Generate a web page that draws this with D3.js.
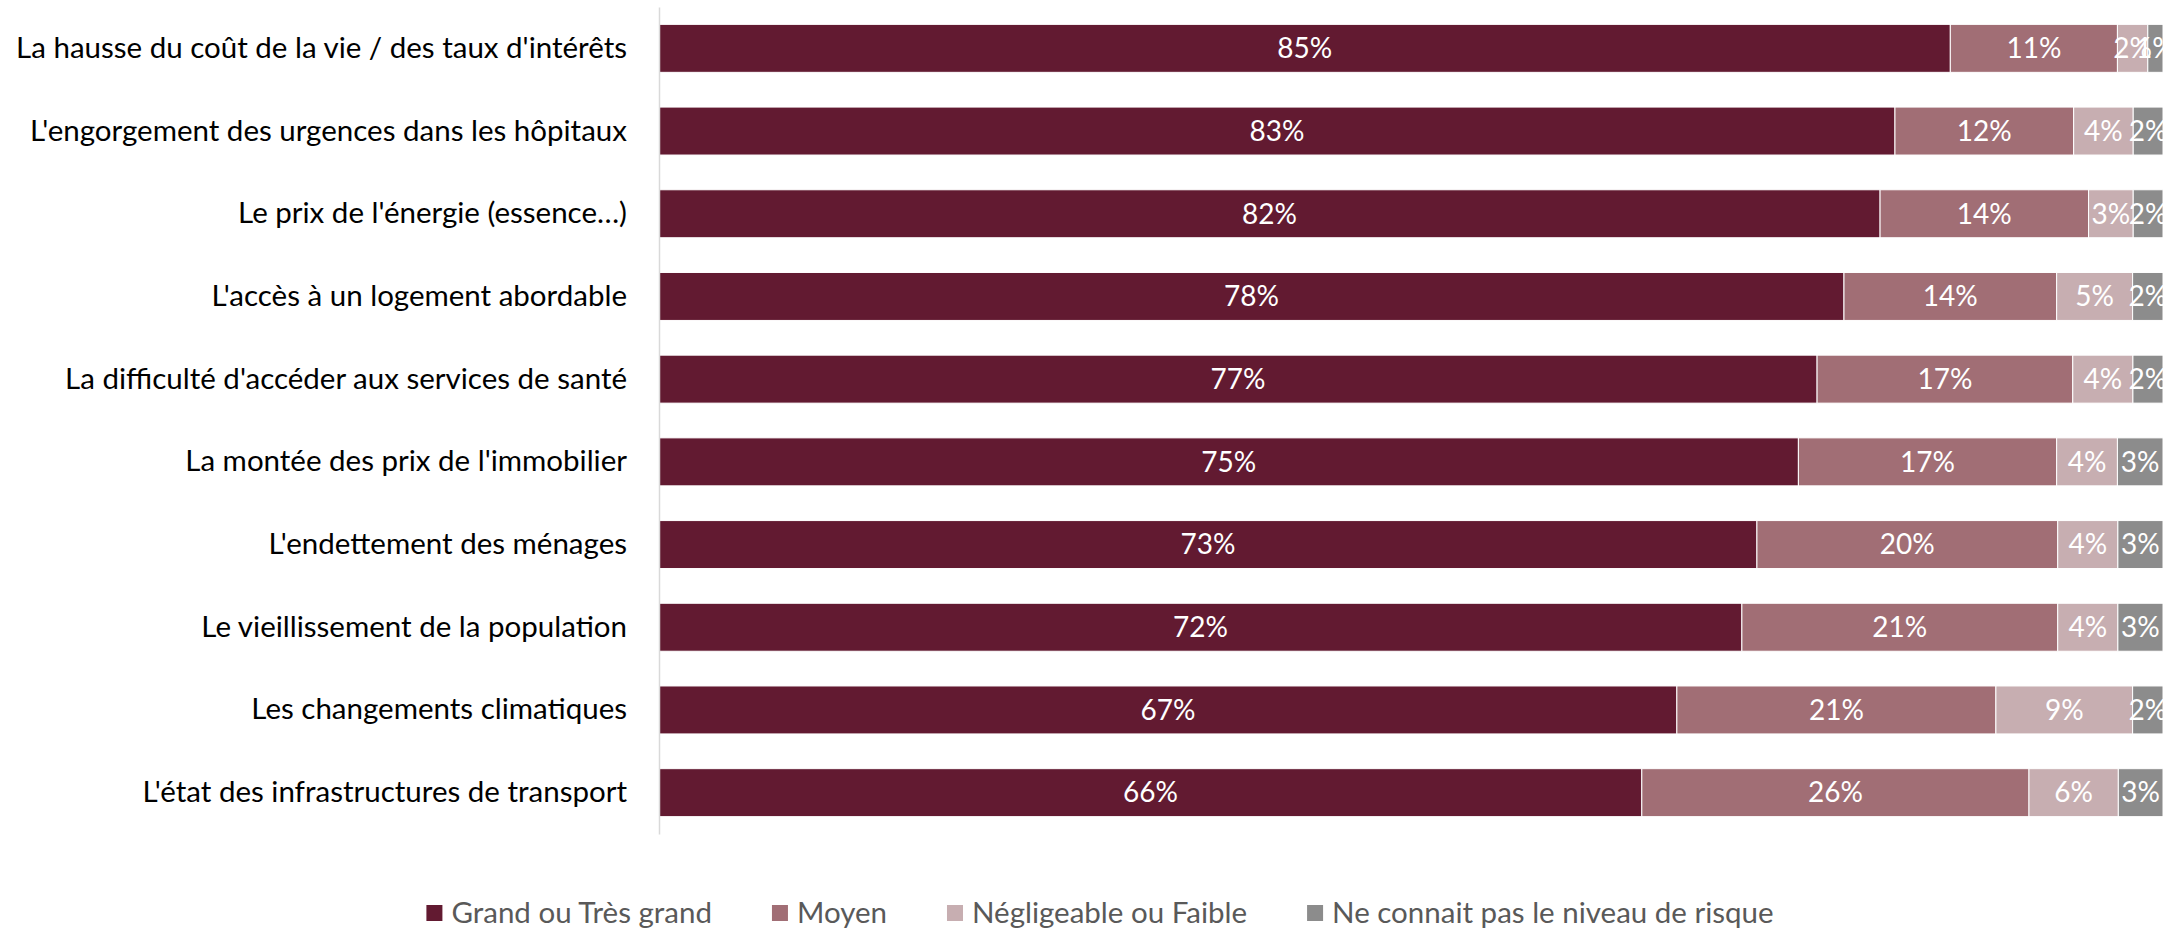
<!DOCTYPE html>
<html>
<head>
<meta charset="utf-8">
<script src="https://cdn.jsdelivr.net/npm/d3@7"></script>
<style>
  html, body { margin: 0; padding: 0; background: #fff; }
  svg { display: block; }
</style>
</head>
<body>
<svg id="chart" width="2169" height="928"></svg>
<script>
const categories = [
  "La hausse du coût de la vie / des taux d'intérêts",
  "L'engorgement des urgences dans les hôpitaux",
  "Le prix de l'énergie (essence…)",
  "L'accès à un logement abordable",
  "La difficulté d'accéder aux services de santé",
  "La montée des prix de l'immobilier",
  "L'endettement des ménages",
  "Le vieillissement de la population",
  "Les changements climatiques",
  "L'état des infrastructures de transport"
];
const seriesNames = ["Grand ou Très grand", "Moyen", "Négligeable ou Faible", "Ne connait pas le niveau de risque"];
const grand      = [85, 83, 82, 78, 77, 75, 73, 72, 67, 66];
const moyen      = [11, 12, 14, 14, 17, 17, 20, 21, 21, 26];
const negligeable= [2, 4, 3, 5, 4, 4, 4, 4, 9, 6];
const neSaitPas  = [1, 2, 2, 2, 2, 3, 3, 3, 2, 3];
const colors = ["#621a31", "#a16e75", "#c7aeb1", "#8c8c8c"];

const FONT = "Lato, 'Open Sans', sans-serif";
const svg = d3.select("#chart");
const plotLeft = 659, plotRight = 2163, plotTop = 7, plotBottom = 834;

const rows = categories.map((c, i) => {
  const vals = [grand[i], moyen[i], negligeable[i], neSaitPas[i]];
  const total = d3.sum(vals);
  let acc = 0;
  const segs = vals.map((v, k) => {
    const s = { k, v, x0: acc / total, x1: (acc + v) / total };
    acc += v;
    return s;
  });
  return { c, segs };
});

const x = d3.scaleLinear().domain([0, 1]).range([plotLeft, plotRight]);
const y = d3.scaleBand().domain(categories).range([plotTop, plotBottom]).paddingInner(0.42).paddingOuter(0.21);

const g = svg.append("g");
const row = g.selectAll("g.row").data(rows).join("g").attr("class", "row")
  .attr("transform", d => `translate(0,${y(d.c)})`);

row.selectAll("rect").data(d => d.segs).join("rect")
  .attr("x", d => x(d.x0))
  .attr("width", d => x(d.x1) - x(d.x0))
  .attr("y", 0)
  .attr("height", y.bandwidth())
  .attr("fill", d => colors[d.k])
  .attr("stroke", "#ffffff")
  .attr("stroke-width", 1);

row.selectAll("text.val").data(d => d.segs).join("text").attr("class", "val")
  .attr("x", d => (x(d.x0) + x(d.x1)) / 2)
  .attr("y", y.bandwidth() / 2)
  .attr("dy", "0.35em")
  .attr("text-anchor", "middle")
  .attr("fill", "#ffffff")
  .style("font-family", FONT)
  .style("font-size", "28px")
  .text(d => d.v + "%");

// axis
const yAxis = d3.axisLeft(y).tickSize(0).tickPadding(32);
const ax = svg.append("g").attr("transform", `translate(${plotLeft},0)`).call(yAxis);
ax.select(".domain").attr("stroke", "#d9d9d9").attr("stroke-width", 1.5);
ax.selectAll("text").style("font-family", FONT).style("font-size", "29.5px").attr("fill", "#000");

// legend
const legend = svg.append("g").attr("transform", "translate(0,913)");
const items = legend.selectAll("g").data(seriesNames).join("g");
items.append("rect").attr("width", 16).attr("height", 16).attr("y", -8).attr("fill", (d, i) => colors[i]);
items.append("text").attr("x", 25).attr("dy", "0.35em")
  .style("font-family", FONT).style("font-size", "29.5px").attr("fill", "#595959").text(d => d);
let cx = 0;
const widths = [];
items.each(function() { widths.push(this.getBBox().width); });
const gap = 60;
const total = d3.sum(widths) + gap * (widths.length - 1);
cx = 1100 - total / 2;
items.attr("transform", (d, i) => {
  const t = `translate(${cx},0)`;
  cx += widths[i] + gap;
  return t;
});
</script>
</body>
</html>
